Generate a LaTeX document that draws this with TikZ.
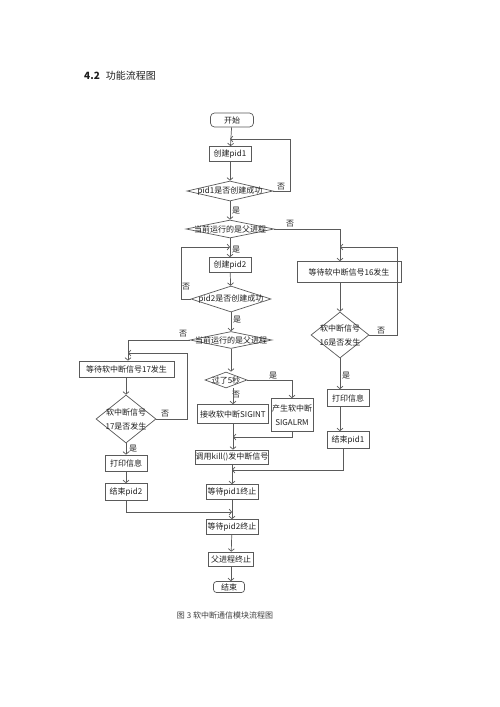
\documentclass[tikz,border=0pt]{standalone}
\usepackage{fontspec}
\setmainfont{Noto Sans CJK SC}
\usetikzlibrary{arrows.meta,shapes.geometric}
\definecolor{lc}{RGB}{90,90,90}
\definecolor{tc}{RGB}{30,30,30}
\begin{document}
\begin{tikzpicture}[x=1pt,y=-1pt,
 base/.style={draw=lc, line width=0.7pt, inner sep=0pt, font=\fontsize{8}{10}\selectfont, text=tc},
 box/.style={base, rectangle},
 rbox/.style={base, rectangle, rounded corners=4pt},
 dia/.style={base, diamond},
 txt/.style={inner sep=0pt, font=\fontsize{8}{14}\selectfont, text=tc, align=center},
 lbl/.style={inner sep=0pt, font=\fontsize{8}{10}\selectfont, text=tc},
 ln/.style={draw=lc, line width=0.7pt},
 arr/.style={ln, -{Straight Barb[length=2.5pt,width=6pt]}}]
\useasboundingbox[fill=white] (0,0) rectangle (500,707);

% heading and caption
\node[lbl, anchor=west, font=\fontsize{10}{12}\selectfont] (head) at (84,76) {\textbf{4.2}\hspace{6pt}功能流程图};
\node[lbl, font=\fontsize{8}{10}\selectfont, text=black!75] (cap) at (225,615) {图 3 软中断通信模块流程图};

% top column
\node[rbox, minimum width=43, minimum height=14] (start) at (232,120) {开始};
\node[box, minimum width=42, minimum height=15] (p1) at (230,154) {创建pid1};
\node[dia, minimum width=86, minimum height=20] (d1) at (230,191) {};
\node[txt] (d1t) at (d1) {pid1是否创建成功};
\node[dia, minimum width=88, minimum height=18] (d2) at (230,229) {};
\node[txt] (d2t) at (d2) {当前运行的是父进程};
\node[box, minimum width=42, minimum height=15] (p2) at (230,265) {创建pid2};
\node[dia, minimum width=80, minimum height=26] (d3) at (231,299) {};
\node[txt] (d3t) at (d3) {pid2是否创建成功};
\node[dia, minimum width=82, minimum height=17] (d4) at (231,340) {};
\node[txt] (d4t) at (d4) {当前运行的是父进程};

% left column
\node[box, minimum width=95, minimum height=16] (w17) at (126.5,369) {等待软中断信号17发生};
\node[dia, minimum width=60, minimum height=48] (d5) at (126,419) {};
\node[txt] (d5t) at (d5) {软中断信号\\17是否发生};
\node[box, minimum width=42, minimum height=16] (pr2) at (126,463) {打印信息};
\node[box, minimum width=42, minimum height=17] (e2) at (126,492) {结束pid2};

% middle column
\node[dia, minimum width=42, minimum height=16] (t5) at (226,380) {};
\node[txt] (t5t) at (t5) {过了5秒};
\node[box, minimum width=71, minimum height=19] (sigint) at (233,414) {接收软中断SIGINT};
\node[box, minimum width=42, minimum height=33, align=center, font=\fontsize{8}{14}\selectfont] (alrm) at (292,415) {产生软中断\\SIGALRM};
\node[box, minimum width=72, minimum height=14] (kill) at (232,457) {调用kill()发中断信号};
\node[box, minimum width=52, minimum height=15] (wp1) at (232,492) {等待pid1终止};
\node[box, minimum width=52, minimum height=15] (wp2) at (232,527) {等待pid2终止};
\node[box, minimum width=45, minimum height=14] (pe) at (231,559) {父进程终止};
\node[rbox, minimum width=31, minimum height=11, rounded corners=3pt] (end) at (229,587) {结束};

% right column
\node[box, minimum width=104, minimum height=21] (w16) at (349,272) {等待软中断信号16发生};
\node[dia, minimum width=58, minimum height=46] (d6) at (340,335) {};
\node[txt] (d6t) at (d6) {软中断信号\\16是否发生};
\node[box, minimum width=42, minimum height=17] (pr1) at (348,398) {打印信息};
\node[box, minimum width=42, minimum height=17] (e1) at (348,440) {结束pid1};

% yes / no labels
\node[lbl] (n1) at (281,187) {否};
\node[lbl] (y1) at (236,211) {是};
\node[lbl] (n2) at (290,224) {否};
\node[lbl] (y2) at (236,250) {是};
\node[lbl] (n3) at (186,287) {否};
\node[lbl] (y3) at (237,320) {是};
\node[lbl] (n4) at (183,334) {否};
\node[lbl] (n5) at (165,414) {否};
\node[lbl] (y5) at (133,449) {是};
\node[lbl] (y6) at (273,376) {是};
\node[lbl] (n6) at (236,395) {否};
\node[lbl] (n7) at (381,331) {否};
\node[lbl] (y7) at (346,376) {是};

% junction coordinates
\coordinate (j1) at (230,139);
\coordinate (r1) at (290,139);
\coordinate (j2) at (230,247);
\coordinate (l2) at (181,247);
\coordinate (k2) at (340,229);
\coordinate (j3) at (340,247);
\coordinate (r3) at (397,247);
\coordinate (j4) at (128,353);
\coordinate (r4) at (187,353);
\coordinate (a5) at (292,380);
\coordinate (b5) at (292,437);
\coordinate (j5) at (233,437);
\coordinate (b6) at (343,470);
\coordinate (j6) at (232,470);
\coordinate (b7) at (126,512);
\coordinate (j7) at (232,512);
\coordinate (k4) at (128,340);

% main flow
\draw[arr] (start) -- (p1);
\draw[arr] (p1) -- (d1);
\draw[arr] (d1.east) -- (d1.east -| r1) -- (r1) -- (j1);
\draw[arr] (d1) -- (d2);
\draw[arr] (d2) -- (p2);
\draw[arr] (p2) -- (d3);
\draw[arr] (d3.west) -- (d3.west -| l2) -- (l2) -- (j2);
\draw[arr] (d3) -- (d4);

% right branch
\draw[arr] (d2.east) -- (k2) -- (k2 |- w16.north);
\draw[arr] (k2 |- w16.south) -- (d6.north);
\draw[arr] (d6.east) -- (d6.east -| r3) -- (r3) -- (j3);
\draw[arr] (d6.south) -- (d6.south |- pr1.north);
\draw[arr] (d6.south |- pr1.south) -- (d6.south |- e1.north);
\draw[arr] (b6 |- e1.south) -- (b6) -- (j6);

% left branch
\draw[arr] (d4.west) -- (k4) -- (k4 |- w17.north);
\draw[arr] (w17.south -| d5) -- (d5.north);
\draw[arr] (d5.east) -- (d5.east -| r4) -- (r4) -- (j4);
\draw[arr] (d5.south) -- (pr2.north);
\draw[arr] (pr2) -- (e2);
\draw[arr] (e2.south) -- (b7) -- (j7);

% middle branch
\draw[arr] (d4.south) -- (d4.south |- t5.north);
\draw[arr] (t5.east) -- (a5) -- (alrm.north);
\draw[arr] (t5.south -| sigint) -- (sigint.north);
\draw[arr] (sigint) -- (sigint |- kill.north);
\draw[arr] (alrm.south) -- (b5) -- (j5);
\draw[arr] (kill) -- (wp1);
\draw[arr] (wp1) -- (wp2);
\draw[arr] (wp2) -- (pe);
\draw[arr] (pe.south) -- (pe.south |- end.north);
\end{tikzpicture}
\end{document}
